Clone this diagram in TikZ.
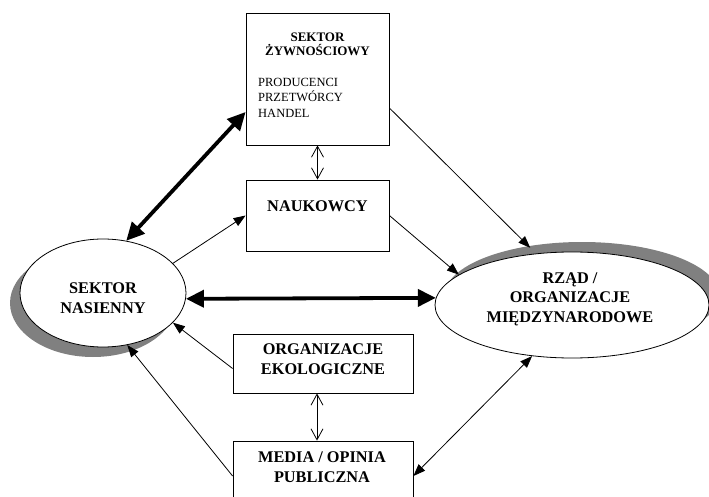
\documentclass[tikz,border=0pt]{standalone}
\usepackage{fontspec}
\setmainfont{Liberation Serif}
\usetikzlibrary{arrows.meta, positioning, shapes.geometric, shadows}

\begin{document}
\begin{tikzpicture}[x=1pt, y=-1pt,
  box/.style={draw, line width=0.8pt, inner sep=0pt},
  oval/.style={ellipse, draw, fill=white, line width=0.8pt, inner sep=0pt},
  txt/.style={inner sep=0pt, align=center, font=\fontsize{16.3}{19.5}\selectfont\bfseries},
  flow/.style={-{Triangle[length=12pt,width=9pt]}, line width=0.8pt},
  flowboth/.style={{Triangle[length=12pt,width=9pt]}-{Triangle[length=12pt,width=9pt]}, line width=0.8pt},
  strong/.style={{Triangle[length=18pt,width=17pt]}-{Triangle[length=18pt,width=17pt]}, line width=3.8pt},
  twoway/.style={{Straight Barb[length=11pt,width=12pt]}-{Straight Barb[length=11pt,width=12pt]}, line width=0.8pt}]
  \clip (0,0) rectangle (709,497);
  % boxes
  \node[box, minimum width=143pt, minimum height=132pt] (zyw) at (317.5,79) {};
  \node[box, minimum width=143pt, minimum height=71pt] (nauk) at (317.5,215.5) {};
  \node[box, minimum width=180pt, minimum height=59pt] (eko) at (323,363.5) {};
  \node[box, minimum width=180pt, minimum height=70pt] (media) at (323,476) {};
  % ellipses
  \node[oval, minimum width=166pt, minimum height=108pt,
    drop shadow={shadow xshift=-10pt, shadow yshift=-10pt, fill=black!50, opacity=1}] (nas) at (103,293) {};
  \node[oval, minimum width=274pt, minimum height=106pt,
    drop shadow={shadow xshift=10pt, shadow yshift=10pt, fill=black!50, opacity=1}] (rzad) at (572,305) {};
  % texts
  \node[txt, font=\fontsize{13}{14}\selectfont\bfseries, below=20.5pt of zyw.north] (zyw-t) {SEKTOR\\ŻYWNOŚCIOWY};
  \node[inner sep=0pt, align=left, font=\fontsize{12.5}{15.3}\selectfont, anchor=north west] (zyw-l) at (258,78) {PRODUCENCI\\PRZETWÓRCY\\HANDEL};
  \node[txt, below=21pt of nauk.north] (nauk-t) {NAUKOWCY};
  \node[txt, below=10pt of eko.north] (eko-t) {ORGANIZACJE\\EKOLOGICZNE};
  \node[txt, below=11pt of media.north, xshift=-1pt] (media-t) {MEDIA / OPINIA\\PUBLICZNA};
  \node[txt] (nas-t) at ([yshift=-5pt]nas.center) {SEKTOR\\NASIENNY};
  \node[txt] (rzad-t) at ([xshift=-2pt,yshift=6pt]rzad.center) {RZĄD /\\ORGANIZACJE\\MIĘDZYNARODOWE};
  % connectors
  \draw[strong] (nas.-4) -- (rzad.177.3);
  \draw[strong] (nas.66) -- ([yshift=-33pt]zyw.west);
  \draw[flow] (nas.23) -- (nauk.west);
  \draw[flow, shorten >=8pt] ([yshift=-29pt]zyw.east) -- (rzad.125);
  \draw[flow] (nauk.east) -- (rzad.165);
  \draw[flow] ([yshift=-5pt]eko.west) -- (nas.-23);
  \draw[flow] (media.west) -- (nas.-65);
  \draw[flowboth] (media.east) -- (rzad.232);
  \draw[twoway] (zyw.south) -- (nauk.north);
  \draw[twoway] ([xshift=-6pt]eko.south) -- ([xshift=-6pt]media.north);
\end{tikzpicture}
\end{document}
